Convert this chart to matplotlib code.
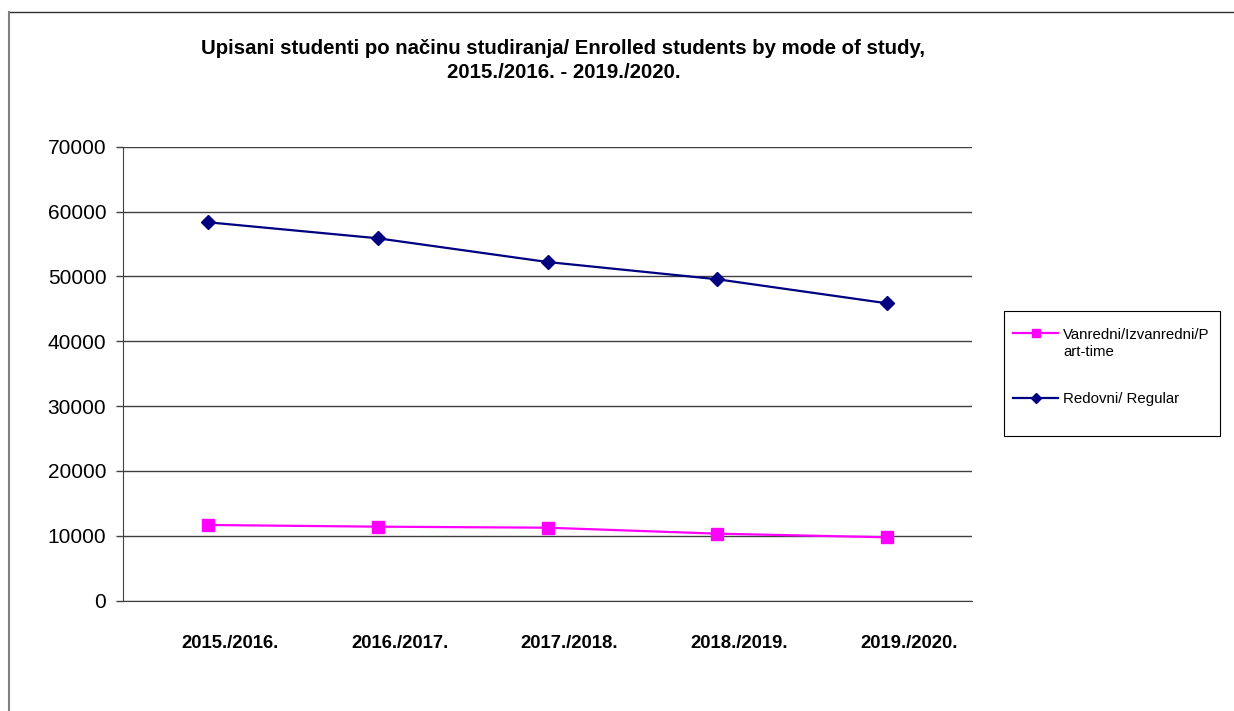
import matplotlib.pyplot as plt
import matplotlib.transforms as mtransforms
from matplotlib.lines import Line2D
from matplotlib.patches import Rectangle
from matplotlib.legend_handler import HandlerLine2D

plt.rcParams['font.family'] = ['Liberation Sans', 'DejaVu Sans']

# podaci procitani sa slike
godine = ["2015./2016.", "2016./2017.", "2017./2018.", "2018./2019.", "2019./2020."]
vanredni = [11650, 11390, 11230, 10310, 9750]
redovni = [58340, 55870, 52210, 49550, 45840]
yticks = [0, 10000, 20000, 30000, 40000, 50000, 60000, 70000]


class GoreHandler(HandlerLine2D):
    # podigne oznaku u legendi na prvi red teksta
    def __init__(self, pomak, **kw):
        super().__init__(**kw)
        self.pomak = pomak

    def create_artists(self, legend, orig_handle, xdescent, ydescent,
                       width, height, fontsize, trans):
        return super().create_artists(legend, orig_handle, xdescent,
                                      ydescent - 2 * self.pomak, width, height,
                                      fontsize, trans)


fig = plt.figure(figsize=(12.34, 7.11), dpi=100)
ax = fig.add_axes([0.0997, 0.1554, 0.6880, 0.6383])

x = range(len(godine))
l1, = ax.plot(x, vanredni, color="#FF00FF", lw=1.6, marker="s", ms=8.5,
              label="Vanredni/Izvanredni/P\nart-time")
l2, = ax.plot(x, redovni, color="#000080", lw=1.6, marker="D", ms=7,
              label="Redovni/ Regular")

ax.set_xlim(-0.5, len(godine) - 0.5)
ax.set_ylim(0, 70000)
ax.set_yticks(yticks)
ax.set_yticklabels([str(v) for v in yticks], fontsize=15)
ax.set_xticks(list(x))
ax.set_xticklabels(godine, fontsize=13.3, fontweight="bold")
ax.tick_params(axis="x", length=0, pad=25)
ax.tick_params(axis="y", length=5, width=1, color="#404040", pad=7)
pomak = mtransforms.ScaledTranslation(0.22, 0, fig.dpi_scale_trans)
for lab in ax.get_xticklabels():
    lab.set_transform(lab.get_transform() + pomak)
ax.grid(axis="y", color="#404040", lw=1)
ax.set_axisbelow(True)
for s in ["top", "right"]:
    ax.spines[s].set_visible(False)
for s in ["left", "bottom"]:
    ax.spines[s].set_color("#404040")

fig.text(0.4566, 0.915, "Upisani studenti po načinu studiranja/ Enrolled students by mode of study,\n2015./2016. - 2019./2020.",
         ha="center", va="center", fontsize=14.7, fontweight="bold", linespacing=1.3)

leg = fig.legend(handles=[l1, l2], loc="upper left",
                 bbox_to_anchor=(1013 / 1234, 1 - 328 / 711),
                 fontsize=10.85, frameon=False, handlelength=3.0,
                 labelspacing=2.2, borderpad=0, borderaxespad=0,
                 handletextpad=0.33,
                 handler_map={l1: GoreHandler(8.0), l2: HandlerLine2D()})
leg.legend_handles[0].set_markersize(6)
leg.legend_handles[1].set_markersize(5)
for t in leg.get_texts():
    t.set_linespacing(1.3)
fig.add_artist(Rectangle((1004 / 1234, 1 - 436 / 711), 216 / 1234, 125 / 711,
                         transform=fig.transFigure, fill=False, ec="black", lw=0.8))

# okvir oko grafikona
fig.add_artist(Line2D([9 / 1234, 1.0], [1 - 12 / 711, 1 - 12 / 711], color="#303030", lw=1))
fig.add_artist(Line2D([9 / 1234, 9 / 1234], [1 - 12 / 711, 0.0], color="#808080", lw=1.5))

fig.savefig("out.png", dpi=100)
